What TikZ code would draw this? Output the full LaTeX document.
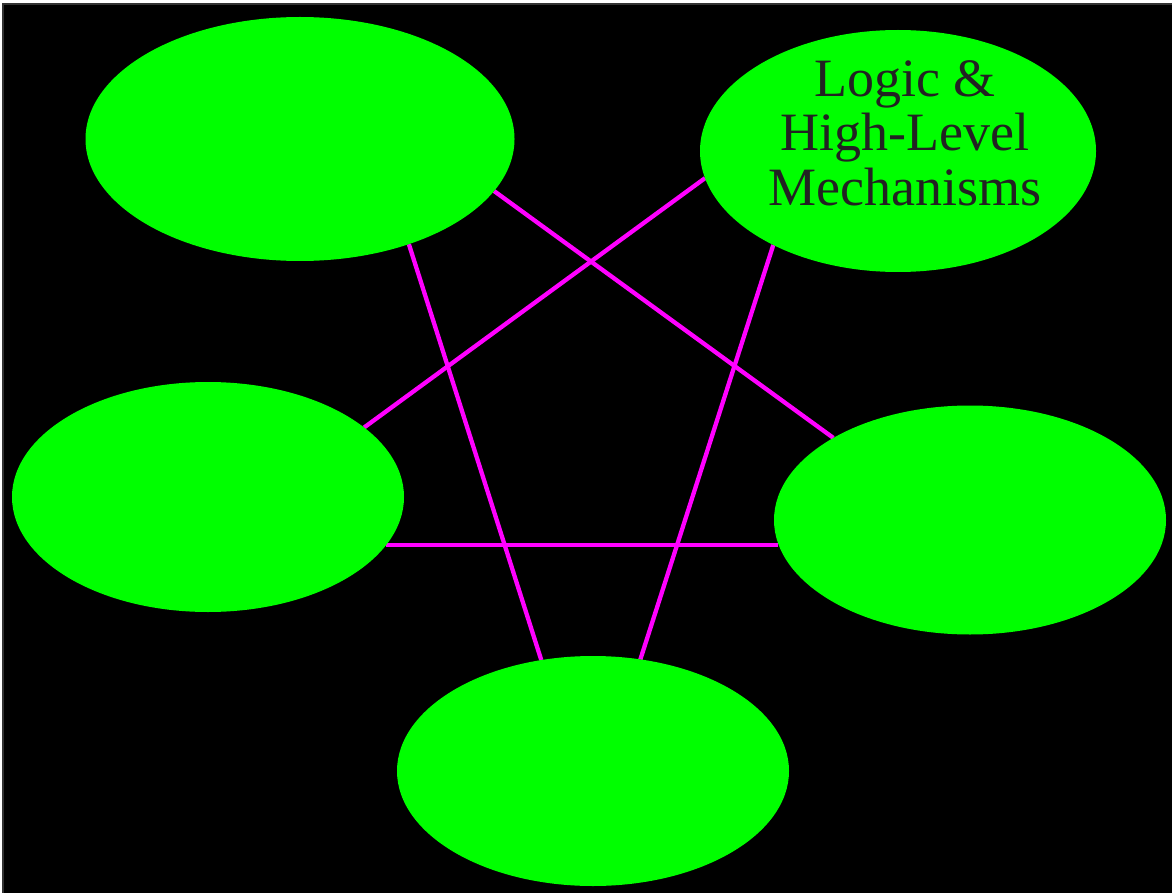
\documentclass[tikz,border=0pt]{standalone}
\usepackage{fontspec}
\setmainfont{Liberation Serif}
\usetikzlibrary{shapes.geometric}
\definecolor{blobgreen}{HTML}{00FF00}
\definecolor{linkmagenta}{HTML}{FF00FF}
\definecolor{inkgray}{HTML}{222222}
\definecolor{framegray}{HTML}{333333}
\pgfdeclarelayer{back}
\pgfdeclarelayer{wires}
\pgfsetlayers{back,wires,main}

\begin{document}
\begin{tikzpicture}[
    x=1pt, y=-1pt,
    blob/.style={ellipse, fill=blobgreen, inner sep=0pt, outer sep=0pt},
    link/.style={draw=linkmagenta, line width=4.3pt},
    caption/.style={font=\fontsize{54}{54.5}\selectfont, text=inkgray, align=center}
  ]
    \useasboundingbox (0,0) rectangle (1172,893);
    \begin{pgfonlayer}{back}
      \draw[fill=black, draw=framegray, line width=2pt] (3,4) rectangle (1175,896);
    \end{pgfonlayer}

    \node[blob, minimum width=429pt, minimum height=244pt] (tl) at (300,139) {};
    \node[blob, minimum width=396pt, minimum height=242pt,
      label={[caption, xshift=7pt, yshift=18pt]center:{Logic \&\\High-Level\\Mechanisms}}] (tr) at (898,151) {};
    \node[blob, minimum width=392pt, minimum height=230pt] (lft) at (208,497) {};
    \node[blob, minimum width=392pt, minimum height=229pt] (rgt) at (970,520) {};
    \node[blob, minimum width=392pt, minimum height=230pt] (bot) at (593,771) {};

    \begin{pgfonlayer}{wires}
      \draw[link] (tl.-15.6) -- (rgt.149);
      \draw[link] (tl.-44.7) -- (bot.115.5);
      \draw[link] (tr.188.6) -- (lft.24.6);
      \draw[link] (tr.217.9) -- (bot.67.5);
      \draw[link] (lft.-15.3) -- (lft.-15.3 -| rgt.187.4);
    \end{pgfonlayer}
\end{tikzpicture}
\end{document}
